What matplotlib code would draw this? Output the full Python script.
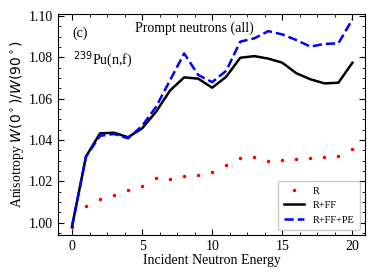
import numpy as np
import matplotlib
matplotlib.use("Agg")
import matplotlib.pyplot as plt
from matplotlib.ticker import MultipleLocator

plt.rcParams["font.family"] = ["Liberation Serif", "DejaVu Serif"]
plt.rcParams["mathtext.fontset"] = "dejavusans"

energy = np.arange(0, 21)
r_only = [0.998, 1.008, 1.0114, 1.0133, 1.0157, 1.0179, 1.0216, 1.0210, 1.0224, 1.0230,
          1.0243, 1.0278, 1.0312, 1.0318, 1.0300, 1.0304, 1.0306, 1.0312, 1.0318, 1.0322, 1.0357]
r_ff = [0.998, 1.032, 1.0432, 1.0435, 1.0413, 1.0456, 1.0537, 1.0640, 1.0703, 1.0697,
        1.0653, 1.0706, 1.0798, 1.0806, 1.0794, 1.0774, 1.0723, 1.0694, 1.0674, 1.0677, 1.0774]
r_ff_pe = [0.998, 1.032, 1.0420, 1.0429, 1.0408, 1.0468, 1.0561, 1.0690, 1.0819, 1.0715,
           1.0680, 1.0735, 1.0876, 1.0892, 1.0927, 1.0911, 1.0884, 1.0852, 1.0865, 1.0868, 1.0984]

fig = plt.figure(figsize=(3.74, 2.8), dpi=100)
ax = fig.add_axes([0.155, 0.161, 0.821, 0.789])

ax.plot(energy, r_only, ".", color="red", markersize=3, label="R")
ax.plot(energy, r_ff, "-", color="black", lw=1.8, label="R+FF")
ax.plot(energy, r_ff_pe, "--", color="blue", lw=1.8, label="R+FF+PE")

ax.set_xlim(-1, 20.9)
ax.set_ylim(0.994, 1.101)
ax.xaxis.set_major_locator(MultipleLocator(5))
ax.xaxis.set_minor_locator(MultipleLocator(1.25))
ax.yaxis.set_major_locator(MultipleLocator(0.02))
ax.yaxis.set_minor_locator(MultipleLocator(0.005))
ax.tick_params(which="both", direction="in", top=True, right=True, labelsize=10)
ax.tick_params(which="major", length=4)
ax.tick_params(which="minor", length=2)

ax.set_xlabel("Incident Neutron Energy", fontsize=10, labelpad=1)
ax.set_ylabel(r"Anisotropy $W(0^\circ)/W(90^\circ)$", fontsize=10, labelpad=2)

ax.text(0.05, 1.0898, "(c)", fontsize=10)
ax.text(0.05, 1.0768, r"$^{239}$Pu(n,f)", fontsize=10)
ax.text(4.5, 1.0923, "Prompt neutrons (all)", fontsize=10)

ax.legend(loc="lower right", fontsize=7.5, handlelength=2.0, borderpad=0.5,
          labelspacing=0.5, edgecolor="0.75")

fig.savefig("out.png", dpi=100)
